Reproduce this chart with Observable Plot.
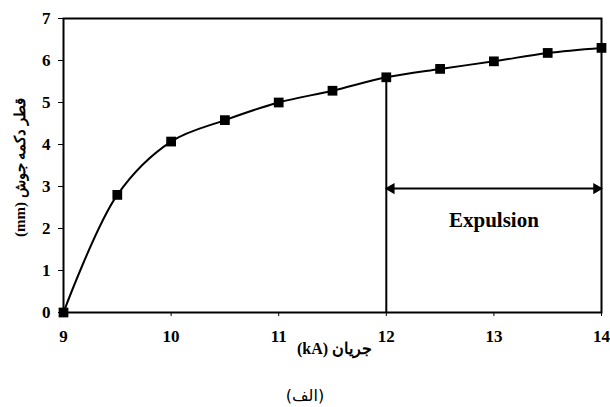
<!DOCTYPE html>
<html>
<head>
<meta charset="utf-8">
<script src="https://cdn.jsdelivr.net/npm/d3@7"></script>
<script src="https://cdn.jsdelivr.net/npm/@observablehq/plot@0.6"></script>
<style>
  html, body { margin: 0; padding: 0; background: #fff; }
  #chart { width: 610px; height: 375px; }
  #caption { width: 610px; text-align: center; font-family: "DejaVu Sans", "Noto Sans", sans-serif; font-size: 16px; line-height: 20px; color: #000; margin-top: 11px; }
</style>
</head>
<body>
<div id="chart"></div>
<div id="caption" dir="rtl">(الف)</div>
<script>
const current = [9, 9.5, 10, 10.5, 11, 11.5, 12, 12.5, 13, 13.5, 14];
const diameter = [0, 2.8, 4.07, 4.58, 5.0, 5.28, 5.6, 5.8, 5.98, 6.18, 6.3];
const xTicks = [9, 10, 11, 12, 13, 14];
const yTicks = [0, 1, 2, 3, 4, 5, 6, 7];
const expulsionRange = [12, 14];
const expulsionArrowY = 2.95;
const expulsionLabelY = 2.2;
const expulsionLabel = "Expulsion";
const xLabel = "(kA) جریان";
const yLabel = "(mm) قطر دکمه جوش";

const data = current.map((x, i) => ({x, y: diameter[i]}));
const font = "Liberation Serif";

const chart = Plot.plot({
  width: 610,
  height: 375,
  marginLeft: 63,
  marginRight: 9,
  marginTop: 18,
  marginBottom: 63,
  style: {fontFamily: font, fontSize: "17px", fontWeight: "bold", color: "#000", background: "#fff", overflow: "visible"},
  x: {domain: [9, 14]},
  y: {domain: [0, 7]},
  marks: [
    Plot.axisX({ticks: xTicks, tickFormat: "d", tickSize: 4, tickPadding: 13, label: null, fontWeight: "bold", fontSize: 17, fontFamily: font}),
    Plot.axisY({ticks: yTicks, tickFormat: "d", tickSize: 5, tickPadding: 8, label: null, fontWeight: "bold", fontSize: 17, fontFamily: font}),
    Plot.text([xLabel], {frameAnchor: "bottom", dy: 41, dx: 2, fontSize: 16, fontWeight: "bold", fontFamily: font}),
    Plot.text([yLabel], {frameAnchor: "left", textAnchor: "middle", dx: -43, dy: 2, rotate: -90, fontSize: 15, fontWeight: "bold", fontFamily: font}),
    Plot.ruleX([expulsionRange[0]], {y1: 0, y2: diameter[current.indexOf(expulsionRange[0])], stroke: "#000", strokeWidth: 2}),
    Plot.ruleY([expulsionArrowY], {x1: expulsionRange[0], x2: expulsionRange[1], stroke: "#000", strokeWidth: 2, insetLeft: 3, insetRight: 3}),
    Plot.dot([expulsionRange[0]], {x: d => d, y: expulsionArrowY, symbol: "triangle", rotate: -90, r: 4.2, fill: "#000", stroke: null, dx: 5}),
    Plot.dot([expulsionRange[1]], {x: d => d, y: expulsionArrowY, symbol: "triangle", rotate: 90, r: 4.2, fill: "#000", stroke: null, dx: -5}),
    Plot.text([expulsionLabel], {x: (expulsionRange[0] + expulsionRange[1]) / 2, y: expulsionLabelY, fontSize: 21, fontWeight: "bold", fontFamily: font}),
    Plot.line(data, {x: "x", y: "y", curve: "catmull-rom", stroke: "#000", strokeWidth: 2}),
    Plot.dot(data, {x: "x", y: "y", symbol: "square", r: 5.5, fill: "#000", stroke: null}),
    Plot.frame({stroke: "#000", strokeWidth: 2})
  ]
});
document.getElementById("chart").appendChild(chart);
</script>
</body>
</html>
